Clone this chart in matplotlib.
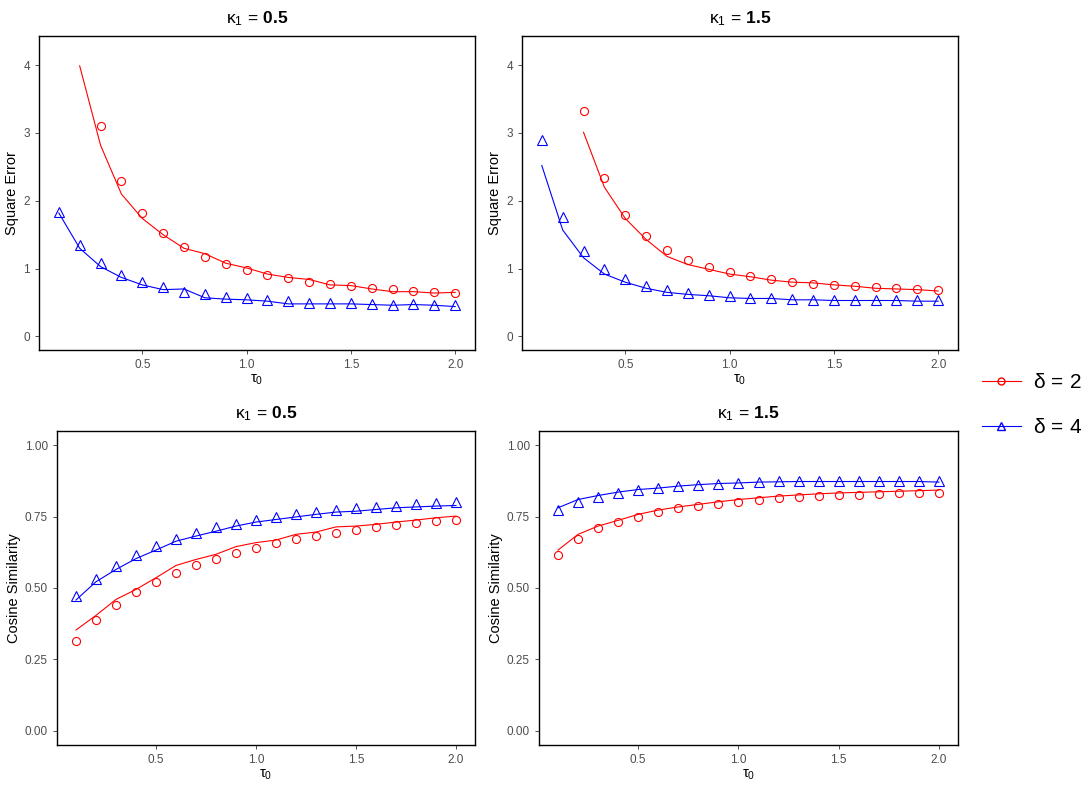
import numpy as np
import matplotlib
matplotlib.use("Agg")
import matplotlib.pyplot as plt
from matplotlib.lines import Line2D
from matplotlib.ticker import FormatStrFormatter

plt.rcParams["font.family"] = ["Liberation Sans", "DejaVu Sans"]
plt.rcParams["mathtext.fontset"] = "custom"
plt.rcParams["mathtext.rm"] = "Liberation Sans"
plt.rcParams["mathtext.it"] = "Liberation Sans:italic"
plt.rcParams["mathtext.bf"] = "Liberation Sans:bold"

nan = np.nan
tau = np.round(np.arange(1, 21) * 0.1, 1)

# square error, kappa1 = 0.5
se05_d2_pts = [nan, nan, 3.10, 2.29, 1.82, 1.52, 1.32, 1.17, 1.07, 0.98,
               0.90, 0.86, 0.80, 0.78, 0.75, 0.71, 0.70, 0.67, 0.65, 0.64]
se05_d2_line = [nan, 3.99, 2.82, 2.10, 1.74, 1.50, 1.30, 1.22, 1.08, 1.01,
                0.92, 0.87, 0.84, 0.76, 0.75, 0.70, 0.66, 0.66, 0.64, 0.65]
se05_d4_pts = [1.84, 1.35, 1.08, 0.91, 0.81, 0.73, 0.66, 0.62, 0.58, 0.56,
               0.53, 0.52, 0.50, 0.49, 0.49, 0.48, 0.47, 0.48, 0.47, 0.47]
se05_d4_line = [1.82, 1.30, 1.03, 0.87, 0.76, 0.69, 0.70, 0.57, 0.55, 0.54,
                0.52, 0.48, 0.48, 0.48, 0.48, 0.47, 0.46, 0.47, 0.46, 0.44]

# square error, kappa1 = 1.5
se15_d2_pts = [nan, nan, 3.33, 2.33, 1.79, 1.48, 1.27, 1.12, 1.02, 0.95,
               0.89, 0.84, 0.80, 0.77, 0.76, 0.74, 0.73, 0.71, 0.70, 0.68]
se15_d2_line = [nan, nan, 3.01, 2.20, 1.74, 1.43, 1.18, 1.06, 0.99, 0.92,
                0.88, 0.83, 0.80, 0.79, 0.76, 0.74, 0.71, 0.70, 0.69, 0.67]
se15_d4_pts = [2.90, 1.76, 1.26, 0.99, 0.84, 0.75, 0.68, 0.64, 0.61, 0.59,
               0.57, 0.56, 0.55, 0.54, 0.53, 0.53, 0.53, 0.53, 0.53, 0.53]
se15_d4_line = [2.52, 1.57, 1.16, 0.92, 0.80, 0.71, 0.65, 0.62, 0.60, 0.57,
                0.56, 0.56, 0.54, 0.54, 0.53, 0.53, 0.53, 0.53, 0.52, 0.52]

# cosine similarity, kappa1 = 0.5
cs05_d2_pts = [0.316, 0.389, 0.442, 0.487, 0.522, 0.554, 0.582, 0.603, 0.624, 0.641,
               0.659, 0.672, 0.683, 0.693, 0.704, 0.714, 0.721, 0.728, 0.735, 0.739]
cs05_d2_line = [0.353, 0.404, 0.460, 0.495, 0.536, 0.579, 0.600, 0.618, 0.645, 0.659,
                0.668, 0.688, 0.696, 0.714, 0.717, 0.723, 0.731, 0.738, 0.746, 0.752]
cs05_d4_pts = [0.472, 0.530, 0.577, 0.615, 0.647, 0.672, 0.691, 0.712, 0.724, 0.738,
               0.748, 0.758, 0.766, 0.774, 0.779, 0.784, 0.789, 0.794, 0.798, 0.801]
cs05_d4_line = [0.458, 0.522, 0.565, 0.603, 0.633, 0.664, 0.682, 0.699, 0.717, 0.731,
                0.740, 0.749, 0.758, 0.766, 0.769, 0.775, 0.781, 0.784, 0.787, 0.789]

# cosine similarity, kappa1 = 1.5
cs15_d2_pts = [0.617, 0.672, 0.709, 0.732, 0.749, 0.767, 0.779, 0.789, 0.796, 0.803,
               0.810, 0.814, 0.819, 0.823, 0.826, 0.826, 0.830, 0.833, 0.833, 0.833]
cs15_d2_line = [0.633, 0.688, 0.717, 0.737, 0.758, 0.773, 0.784, 0.793, 0.802, 0.810,
                0.816, 0.822, 0.826, 0.830, 0.833, 0.835, 0.837, 0.839, 0.841, 0.843]
cs15_d4_pts = [0.773, 0.801, 0.819, 0.834, 0.845, 0.852, 0.859, 0.862, 0.866, 0.869,
               0.873, 0.874, 0.876, 0.876, 0.876, 0.876, 0.876, 0.876, 0.876, 0.876]
cs15_d4_line = [0.781, 0.810, 0.824, 0.836, 0.845, 0.850, 0.857, 0.862, 0.866, 0.868,
                0.871, 0.872, 0.873, 0.873, 0.873, 0.873, 0.873, 0.873, 0.873, 0.871]

titles = [r"$\mathrm{\kappa}_1\,=\,\mathbf{0.5}$", r"$\mathrm{\kappa}_1\,=\,\mathbf{1.5}$"]
legend_labels = [r"$\mathrm{\delta}\,=\,2$", r"$\mathrm{\delta}\,=\,4$"]

RED, BLUE = "#FF0000", "#0000FF"
GREY = "#4D4D4D"

fig = plt.figure(figsize=(10.82, 7.89), dpi=100)
W, H = 1082, 789


def make_ax(l, t, r, b):
    return fig.add_axes([l / W, 1 - b / H, (r - l) / W, (b - t) / H])


panels = [
    (make_ax(39, 36, 475, 350), se05_d2_pts, se05_d2_line, se05_d4_pts, se05_d4_line, titles[0], "Square Error"),
    (make_ax(522, 36, 958, 350), se15_d2_pts, se15_d2_line, se15_d4_pts, se15_d4_line, titles[1], "Square Error"),
    (make_ax(57, 431, 475, 745), cs05_d2_pts, cs05_d2_line, cs05_d4_pts, cs05_d4_line, titles[0], "Cosine Similarity"),
    (make_ax(539, 431, 958, 745), cs15_d2_pts, cs15_d2_line, cs15_d4_pts, cs15_d4_line, titles[1], "Cosine Similarity"),
]

for ax, d2p, d2l, d4p, d4l, title, ylab in panels:
    ax.plot(tau, d2l, color=RED, lw=0.8)
    ax.plot(tau, d4l, color=BLUE, lw=0.8)
    ax.plot(tau, d2p, ls="none", marker="o", ms=5.8, mfc="none", mec=RED, mew=0.8)
    ax.plot(tau, d4p, ls="none", marker="^", ms=7, mfc="none", mec=BLUE, mew=0.8)
    ax.set_xlim(0.005, 2.095)
    ax.set_xticks([0.5, 1.0, 1.5, 2.0])
    ax.xaxis.set_major_formatter(FormatStrFormatter("%.1f"))
    if ylab == "Square Error":
        ax.set_ylim(-0.2, 4.43)
        ax.set_yticks([0, 1, 2, 3, 4])
    else:
        ax.set_ylim(-0.05, 1.05)
        ax.set_yticks([0, 0.25, 0.5, 0.75, 1.0])
        ax.yaxis.set_major_formatter(FormatStrFormatter("%.2f"))
    ax.set_title(title, fontsize=12.5, pad=9)
    ax.set_ylabel(ylab, fontsize=10.5, labelpad=3)
    ax.set_xlabel(r"$\mathrm{\tau}_0$", fontsize=10.5, labelpad=1)
    ax.tick_params(labelsize=8.5, colors="#333333", labelcolor=GREY, length=3, width=0.6)
    for sp in ax.spines.values():
        sp.set_linewidth(1.0)
        sp.set_color("black")

handles = [
    Line2D([], [], color=RED, lw=0.8, marker="o", ms=5, mfc="none", mec=RED),
    Line2D([], [], color=BLUE, lw=0.8, marker="^", ms=6, mfc="none", mec=BLUE),
]
fig.legend(handles, legend_labels, loc="center left", bbox_to_anchor=(982 / W, 1 - 405 / H),
           frameon=False, fontsize=15, handlelength=1.85, handletextpad=0.6,
           borderpad=0, borderaxespad=0, labelspacing=1.25, numpoints=1)

fig.savefig("out.png", dpi=100)
